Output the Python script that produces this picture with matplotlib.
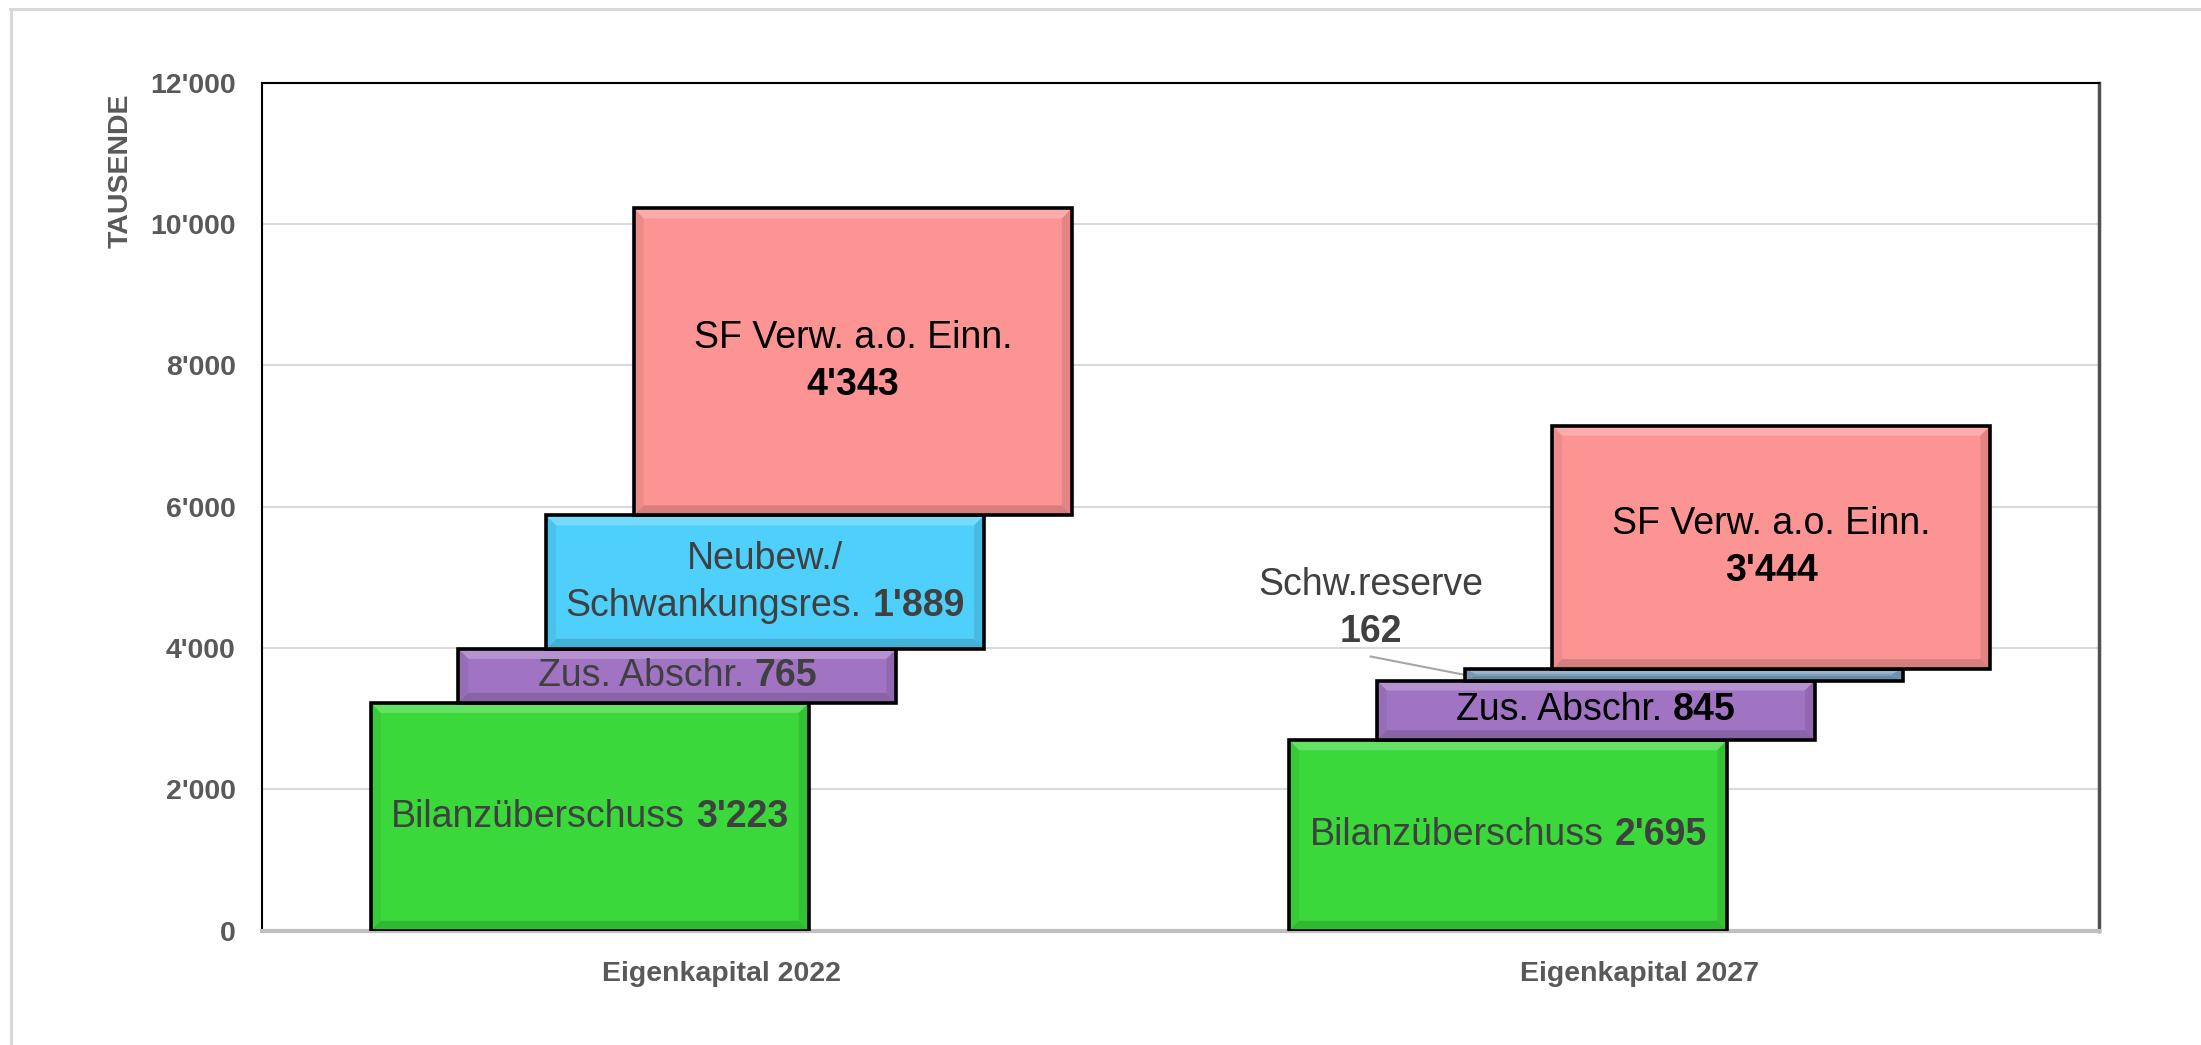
import matplotlib
matplotlib.use("Agg")
import matplotlib.pyplot as plt
import matplotlib.colors as mcolors
from matplotlib.patches import Polygon
from matplotlib.lines import Line2D
from matplotlib.offsetbox import TextArea, HPacker, VPacker, AnnotationBbox

plt.rcParams['font.family'] = ['Liberation Sans', 'DejaVu Sans']

# data
categories = ["Eigenkapital 2022", "Eigenkapital 2027"]
values_2022 = [3223, 765, 1889, 4343]
values_2027 = [2695, 845, 162, 3444]
labels_2022 = ["Bilanzüberschuss", "Zus. Abschr.", "Neubew./\nSchwankungsres.", "SF Verw. a.o. Einn.\n"]
labels_2027 = ["Bilanzüberschuss", "Zus. Abschr.", None, "SF Verw. a.o. Einn.\n"]
seg_colors = ["#3ad83a", "#a074c3", "#4fcffb", "#fc9494"]
seg_colors_2027 = ["#3ad83a", "#a074c3", "#7fa1bf", "#fc9494"]
text_colors_2022 = ["#404040", "#404040", "#404040", "black"]
text_colors_2027 = ["#404040", "black", "#404040", "black"]
ext_label = "Schw.reserve"

W, H, DPI = 2201, 1045, 100
fig = plt.figure(figsize=(W / DPI, H / DPI), dpi=DPI)
ax = fig.add_axes([262 / W, 1 - 930.7 / H, (2099 - 262) / W, (930.7 - 82.7) / H])

XMIN, XMAX, YMAX = -0.5, 1.5, 12000
ax.set_xlim(XMIN, XMAX)
ax.set_ylim(0, YMAX)

bar_w = 0.477
step = 0.0955

# pixel -> data scale for the bevel
px_x = ax.get_position().width * W / (XMAX - XMIN)
px_y = ax.get_position().height * H / YMAX
bev = 10
bx, by = bev / px_x, bev / px_y


def fmt(v):
    return f"{v:,}".replace(",", "'")


def mix(c, other, t):
    a = mcolors.to_rgb(c)
    b = mcolors.to_rgb(other)
    return tuple(a[i] * (1 - t) + b[i] * t for i in range(3))


def bevel(x0, x1, y0, y1, color, z):
    h = min(by, (y1 - y0) / 2.5)
    w = bx
    top = [(x0, y1), (x1, y1), (x1 - w, y1 - h), (x0 + w, y1 - h)]
    bot = [(x0, y0), (x1, y0), (x1 - w, y0 + h), (x0 + w, y0 + h)]
    left = [(x0, y0), (x0, y1), (x0 + w, y1 - h), (x0 + w, y0 + h)]
    right = [(x1, y0), (x1, y1), (x1 - w, y1 - h), (x1 - w, y0 + h)]
    for pts, c in [(top, mix(color, "white", 0.22)), (bot, mix(color, "black", 0.15)),
                   (left, mix(color, "black", 0.06)), (right, mix(color, "black", 0.1))]:
        ax.add_patch(Polygon(pts, closed=True, facecolor=c, edgecolor="none", zorder=z + 0.1))


def label_box(text, value, color):
    lines = text.split("\n")
    rows = []
    for i, ln in enumerate(lines):
        parts = []
        if ln:
            parts.append(TextArea(ln, textprops=dict(fontsize=27, color=color)))
        if i == len(lines) - 1:
            parts.append(TextArea(fmt(value), textprops=dict(fontsize=27, color=color, fontweight="bold")))
        rows.append(HPacker(children=parts, align="baseline", pad=0, sep=7.5))
    return VPacker(children=rows, align="center", pad=0, sep=8)


series = [(values_2022, labels_2022, seg_colors, text_colors_2022),
          (values_2027, labels_2027, seg_colors_2027, text_colors_2027)]

for ci, (vals, labs, cols, tcols) in enumerate(series):
    bottom = 0
    for si, v in enumerate(vals):
        xc = ci + (si - 1.5) * step
        z = 3 + si
        x0, x1 = xc - bar_w / 2, xc + bar_w / 2
        ax.bar(xc, v, width=bar_w, bottom=bottom, color=cols[si], edgecolor="none", zorder=z)
        bevel(x0, x1, bottom, bottom + v, cols[si], z)
        # outline drawn above the bevel
        ax.bar(xc, v, width=bar_w, bottom=bottom, color="none", edgecolor="black",
               linewidth=2.6, zorder=z + 0.2)
        if labs[si] is not None:
            box = label_box(labs[si], v, tcols[si])
            ab = AnnotationBbox(box, (xc, bottom + v / 2), xycoords="data", frameon=False,
                                box_alignment=(0.5, 0.5), zorder=z + 0.5)
            ax.add_artist(ab)
        else:
            # small segment labelled outside with a leader line
            tx, ty = 0.707, 4560
            box = label_box(ext_label + "\n", v, tcols[si])
            ab = AnnotationBbox(box, (tx, ty), xycoords="data", frameon=False,
                                box_alignment=(0.5, 0.5), zorder=10)
            ax.add_artist(ab)
            ax.plot([tx, x0], [ty - 680, bottom + v / 2], color="#a6a6a6", lw=1.5, zorder=z - 0.5)
        bottom += v

# axes styling
ax.set_yticks(range(0, YMAX + 1, 2000))
ax.set_yticklabels([fmt(t) for t in range(0, YMAX + 1, 2000)])
ax.set_xticks(range(len(categories)))
ax.set_xticklabels(categories)
ax.tick_params(axis="both", length=0, labelsize=20.5, labelcolor="#595959")
ax.tick_params(axis="y", pad=19)
ax.tick_params(axis="x", pad=22)
for lbl in ax.get_xticklabels() + ax.get_yticklabels():
    lbl.set_fontweight("bold")
ax.grid(axis="y", color="#d9d9d9", linewidth=1.5, zorder=0)
ax.set_axisbelow(True)
ax.spines["top"].set_color("black")
ax.spines["left"].set_color("black")
ax.spines["top"].set_linewidth(1.5)
ax.spines["left"].set_linewidth(1.5)
ax.spines["right"].set_color("#505050")
ax.spines["right"].set_linewidth(2.5)
ax.spines["bottom"].set_color("#bfbfbf")
ax.spines["bottom"].set_linewidth(3)

ax.text(-0.0768, 0.896, "TAUSENDE", transform=ax.transAxes, rotation=90, ha="center",
        va="center", fontsize=20.5, fontweight="bold", color="#595959")

# outer frame (only top and left edges visible)
fig.add_artist(Line2D([10 / W, 1], [1 - 9 / H, 1 - 9 / H], color="#d9d9d9", lw=2.2))
fig.add_artist(Line2D([11 / W, 11 / W], [0, 1 - 9 / H], color="#d9d9d9", lw=2.2))

fig.savefig("out.png", dpi=DPI)
